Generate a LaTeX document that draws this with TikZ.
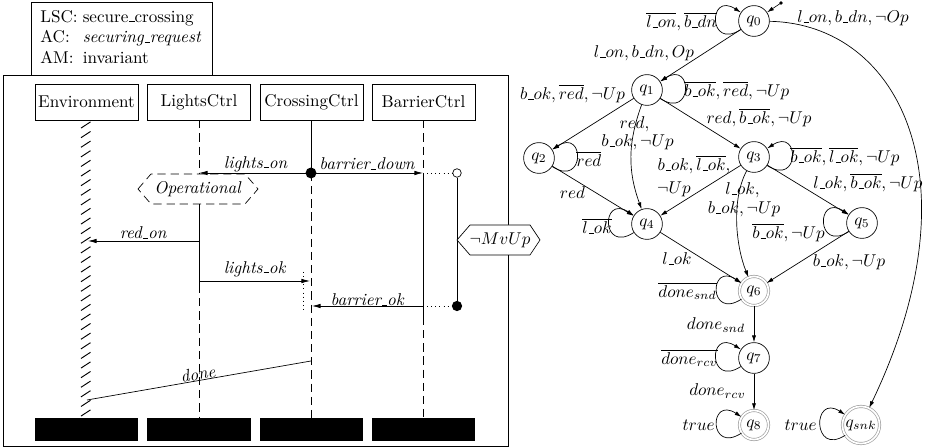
\documentclass[tikz,border=0pt]{standalone}
\usetikzlibrary{arrows.meta}
% low underscore bar in the style of the classic OT1 \_
\newcommand{\uscore}{\ifmmode\mbox{\kern.06em\vrule height .4pt depth 0pt width .3em}\else\leavevmode\kern.06em\vrule height .4pt depth 0pt width .3em\relax\fi}
\begin{document}
\begin{tikzpicture}[x=0.585pt,y=-0.585pt,
  inst/.style={draw, minimum width=60.3pt, minimum height=21pt, inner sep=1pt},
  foot/.style={fill=black, minimum width=60.3pt, minimum height=13.5pt, inner sep=0pt},
  coldline/.style={dash pattern=on 4.8pt off 2.9pt},
  msg/.style={-{Latex[length=5pt,width=2.6pt]}},
  lab/.style={inner sep=0pt},
  st/.style={circle, draw, minimum size=18pt, inner sep=1pt},
  acc/.style={circle, draw=gray!75, double, double distance=1pt, minimum size=17pt, inner sep=1pt},
  tr/.style={-{Latex[length=4pt,width=2.4pt]}}
]
\useasboundingbox (0,0) rectangle (927,448);

% ---------------- live sequence chart ----------------
\draw (31,2) rectangle (212,75);
\node[anchor=west, inner sep=0pt] (hdr) at (40,38.5)
  {\begin{tabular}{@{}l@{\hspace{3pt}}l@{}}
   LSC: & secure\uscore crossing\\
   AC:  & \textit{securing\uscore request}\\
   AM:  & invariant
   \end{tabular}};
\draw (3,75) rectangle (508,446);

% instance heads and ends
\node[inst] (env) at (86.5,102) {Environment};
\node[inst] (lc)  at (199,102)  {LightsCtrl};
\node[inst] (cc)  at (311.5,102) {CrossingCtrl};
\node[inst] (bc)  at (423.5,102) {BarrierCtrl};
\node[foot] (envE) at (86.5,429.5) {};
\node[foot] (lcE)  at (199,429.5) {};
\node[foot] (ccE)  at (311.5,429.5) {};
\node[foot] (bcE)  at (423.5,429.5) {};

% event points on the lifelines
\coordinate (lcOn)   at (199,173);
\coordinate (lcRed)  at (199,241);
\coordinate (lcOk)   at (199,281);
\coordinate (lcHot)  at (199,285);
\coordinate (ccSync) at (311,173);
\coordinate (ccOk)   at (310,281);
\coordinate (ccBok)  at (312,306);
\coordinate (ccDone) at (311,361);
\coordinate (bcDn)   at (423,173);
\coordinate (bcOk)   at (423,306);
\coordinate (bcHot)  at (423,317);
\coordinate (envRed) at (88,241);
\coordinate (envDone) at (87,400);

% environment lifeline (hatched)
\foreach \i in {0,...,30}
  \draw[line width=0.55pt] (81,{125+9.6*\i+3.1}) -- (90.5,{125+9.6*\i-3.1});

% LightsCtrl lifeline
\draw[coldline] (lc.south) -- (lcOn);
\node[lab] (op) at (198,189) {\textit{Operational}};
\draw[coldline] (138,189) -- (151,174) -- (245,174) -- (258,189) -- (245,204) -- (151,204) -- cycle;
\draw (199,204) -- (lcHot);
\draw[coldline] (lcHot) -- (lcE.north);

% CrossingCtrl lifeline
\draw (cc.south -| ccSync) -- (ccSync);
\draw[coldline] (ccSync) -- (ccE.north -| ccSync);
\draw[dotted] (303,272) -- (303,313);

% BarrierCtrl lifeline
\draw[coldline] (bc.south -| bcDn) -- (bcDn);
\draw (bcDn) -- (bcHot);
\draw[coldline] (bcHot) -- (bcE.north -| bcHot);

% messages
\draw[msg] (ccSync) -- (lcOn);
\draw[msg] (ccSync) -- (bcDn);
\draw[msg] (lcRed) -- (envRed);
\draw[msg] (lcOk) -- (ccOk);
\draw[msg] (bcOk) -- (ccBok);
\draw (ccDone) -- (envDone);
\node[lab] at (255.8,164) {\textit{lights\uscore on}};
\node[lab] at (367.2,164) {\textit{barrier\uscore down}};
\node[lab] at (143.3,232.5) {\textit{red\uscore on}};
\node[lab] at (255,269) {\textit{lights\uscore ok}};
\node[lab] at (367.5,299.5) {\textit{barrier\uscore ok}};
\node[lab, rotate=9.9] at (198,374) {\textit{done}};

% synchronisation and condition
\fill (ccSync) circle (3.2pt);
\node[circle, draw, fill=white, inner sep=0pt, minimum size=5pt] (cOpen) at (457,173) {};
\node[circle, fill=black, inner sep=0pt, minimum size=6pt] (cFull) at (457,306) {};
\draw[dotted] (bcDn) -- (cOpen);
\draw[dotted] (bcOk) -- (cFull);
\draw (cOpen) -- (cFull);
\draw[fill=white] (457,240) -- (470,225) -- (530,225) -- (540,240) -- (530,255) -- (470,255) -- cycle;
\node[lab] (cond) at (500,240) {$\neg MvUp$};

% ---------------- automaton ----------------
\node[st]  (q0) at (754,21)  {$q_0$};
\node[st]  (q1) at (647,90)  {$q_1$};
\node[st]  (q2) at (539,158) {$q_2$};
\node[st]  (q3) at (754,157) {$q_3$};
\node[st]  (q4) at (647,224) {$q_4$};
\node[st]  (q5) at (862,223) {$q_5$};
\node[acc] (q6) at (754,291) {$q_6$};
\node[st]  (q7) at (754,358) {$q_7$};
\node[acc] (q8) at (754,425) {$q_8$};
\node[acc] (qs) at (861,425) {$q_{snk}$};
\coordinate (init) at (781,3);
\fill (init) circle (1.1pt);

\draw[tr] (init) -- (q0);
\draw[tr] (q0) -- (q1);
\draw[tr] (q0) .. controls (900,24) and (978,181) .. (qs);
\draw[tr] (q1) -- (q2);
\draw[tr] (q1) -- (q3);
\draw[tr] (q1) to[bend right=20] (q4);
\draw[tr] (q2) -- (q4);
\draw[tr] (q3) -- (q4);
\draw[tr] (q3) -- (q5);
\draw[tr] (q3) to[out=-118, in=112, looseness=0.8] (q6);
\draw[tr] (q4) -- (q6);
\draw[tr] (q5) -- (q6);
\draw[tr] (q6) -- (q7);
\draw[tr] (q7) -- (q8);

% self-loops
\foreach \s in {q0,q4,q5,q6,q7,q8,qs}
  \draw[tr] (\s.213) .. controls +(213:23pt) and +(147:23pt) .. (\s.147);
\foreach \s in {q1,q2,q3}
  \draw[tr] (\s.-33) .. controls +(-33:23pt) and +(33:23pt) .. (\s.33);

% transition labels
\node[lab, anchor=east] at (717,22) {$\overline{l\uscore on}, \overline{b\uscore dn}$};
\node[lab] at (644,53)    {$l\uscore on, b\uscore dn, Op$};
\node[lab] at (853,18)    {$l\uscore on, b\uscore dn, \neg Op$};
\node[lab, anchor=west] at (684,91) {$\overline{b\uscore ok}, \overline{red}, \neg Up$};
\node[lab] at (572.5,94)  {$b\uscore ok, \overline{red}, \neg Up$};
\node[lab] at (634.5,124) {$red,$};
\node[lab] at (637.5,142) {$b\uscore ok, \neg Up$};
\node[lab] at (759,118)   {$red, \overline{b\uscore ok}, \neg Up$};
\node[lab, anchor=west] at (576,158.5) {$\overline{red}$};
\node[lab, anchor=west] at (790,157) {$\overline{b\uscore ok}, \overline{l\uscore ok}, \neg Up$};
\node[lab] at (694,165)   {$b\uscore ok, \overline{l\uscore ok},$};
\node[lab] at (674,189)   {$\neg Up$};
\node[lab] at (572.5,192.5) {$red$};
\node[lab] at (742.5,190) {$l\uscore ok,$};
\node[lab] at (744,209)   {$b\uscore ok, \neg Up$};
\node[lab] at (868,183)   {$l\uscore ok, \overline{b\uscore ok}, \neg Up$};
\node[lab, anchor=east] at (612,226) {$\overline{l\uscore ok}$};
\node[lab, anchor=east] at (825,233) {$\overline{b\uscore ok}, \neg Up$};
\node[lab] at (677,259)   {$l\uscore ok$};
\node[lab] at (849,262.5) {$b\uscore ok, \neg Up$};
\node[lab, anchor=east] at (717,291) {$\overline{done_{snd}}$};
\node[lab] at (716,325)   {$done_{snd}$};
\node[lab, anchor=east] at (718,358) {$\overline{done_{rcv}}$};
\node[lab] at (717.5,391) {$done_{rcv}$};
\node[lab, anchor=east] at (715,425) {$true$};
\node[lab, anchor=east] at (817,425) {$true$};
\end{tikzpicture}
\end{document}
